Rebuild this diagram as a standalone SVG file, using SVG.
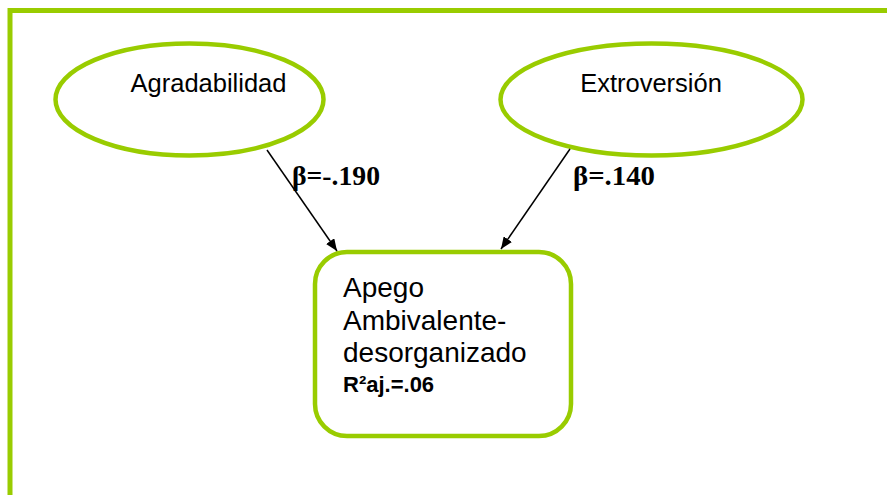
<svg xmlns="http://www.w3.org/2000/svg" width="887" height="495" viewBox="0 0 887 495">
<style>
.frame{fill:none;stroke:#99cc00;stroke-width:5}
.node{fill:#ffffff;stroke:#99cc00;stroke-width:4.5}
.lbl{font-family:"Liberation Sans",Arial,sans-serif;fill:#000000}
.beta{font-family:"Liberation Serif","Times New Roman",serif;font-weight:bold;font-size:27px;fill:#000000}
.edge{stroke:#000000;stroke-width:1.5;fill:none}
</style>
<defs>
<marker id="arrow" viewBox="0 0 12 10" refX="12" refY="5" markerWidth="12" markerHeight="10" markerUnits="userSpaceOnUse" orient="auto">
<path d="M0,0 L12,5 L0,10 Z" fill="#000000"/>
</marker>
</defs>
<rect x="0" y="0" width="887" height="495" fill="#ffffff"/>
<path class="frame" d="M10,495 L10,10.5 L887,10.5"/>
<g id="node-agradabilidad">
<ellipse class="node" cx="189.5" cy="99.5" rx="134" ry="56"/>
<text class="lbl" x="208.5" y="92" font-size="25.5" text-anchor="middle">Agradabilidad</text>
</g>
<g id="node-extroversion">
<ellipse class="node" cx="651.5" cy="99.5" rx="151" ry="56"/>
<text class="lbl" x="651" y="92" font-size="25.5" text-anchor="middle">Extroversión</text>
</g>
<g id="node-apego">
<rect class="node" x="315" y="252" width="256" height="184" rx="32" ry="32"/>
<text class="lbl" x="343" y="297" font-size="28">Apego</text>
<text class="lbl" x="343" y="330" font-size="28">Ambivalente-</text>
<text class="lbl" x="343" y="362" font-size="28">desorganizado</text>
<text class="lbl" x="343" y="392" font-size="22" font-weight="bold">R²aj.=.06</text>
</g>
<g id="connectors">
<line class="edge" x1="267" y1="150" x2="337" y2="251" marker-end="url(#arrow)"/>
<line class="edge" x1="570" y1="149" x2="501" y2="249" marker-end="url(#arrow)"/>
<text class="beta" x="292" y="185" textLength="88" lengthAdjust="spacingAndGlyphs">β=-.190</text>
<text class="beta" x="573" y="185" textLength="82" lengthAdjust="spacingAndGlyphs">β=.140</text>
</g>
</svg>
